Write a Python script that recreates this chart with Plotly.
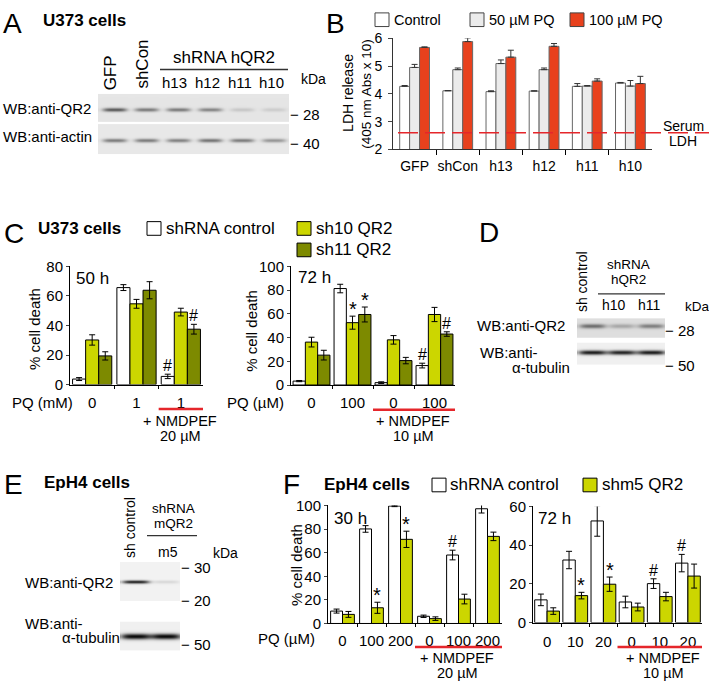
import numpy as np
import plotly.graph_objects as go

W, H = 709, 690
FONT = "Liberation Sans, Arial, sans-serif"

# ---------------- data ----------------
# Panel B
B_groups = ["GFP", "shCon", "h13", "h12", "h11", "h10"]
B_series = ["Control", "50 µM PQ", "100 µM PQ"]
B_control = [4.27, 4.11, 4.08, 4.10, 4.27, 4.39]
B_control_err = [0.03, 0.01, 0.03, 0.01, 0.10, 0.02]
B_pq50 = [4.95, 4.87, 5.09, 4.87, 4.28, 4.28]
B_pq50_err = [0.11, 0.06, 0.13, 0.06, 0.02, 0.20]
B_pq100 = [5.67, 5.88, 5.32, 5.71, 4.46, 4.37]
B_pq100_err = [0.02, 0.13, 0.25, 0.10, 0.08, 0.26]
B_yticks = [2, 3, 4, 5, 6]
serum_ldh = 2.6

# Panel C
C_series = ["shRNA control", "sh10 QR2", "sh11 QR2"]
C50_labels = ["0", "1", "1"]
C50_shcon = [3.7, 65.7, 5.5]
C50_shcon_err = [1.0, 2.0, 1.5]
C50_sh10 = [30.2, 54.7, 49.1]
C50_sh10_err = [3.5, 3.0, 2.6]
C50_sh11 = [19.4, 63.9, 37.5]
C50_sh11_err = [2.8, 5.8, 3.3]
C50_marks = [("#", 0, 2), ("#", 2, 2)]
C50_yticks = [0, 20, 40, 60, 80]

C72_labels = ["0", "100", "0", "100"]
C72_shcon = [3.3, 81.4, 2.0, 16.4]
C72_shcon_err = [0.5, 3.6, 0.7, 2.0]
C72_sh10 = [36.2, 52.6, 38.1, 59.5]
C72_sh10_err = [4.1, 5.5, 3.6, 6.0]
C72_sh11 = [25.2, 59.5, 20.6, 43.0]
C72_sh11_err = [4.1, 6.3, 2.7, 1.9]
C72_marks = [("*", 1, 1), ("*", 2, 1), ("#", 0, 3), ("#", 2, 3)]
C72_yticks = [0, 20, 40, 60, 80, 100]

# Panel F
F_series = ["shRNA control", "shm5 QR2"]
F30_labels = ["0", "100", "200", "0", "100", "200"]
F30_shcon = [10.5, 80.1, 99.5, 6.1, 58.0, 97.2]
F30_shcon_err = [1.7, 2.8, 0.5, 1.0, 4.1, 3.6]
F30_shm5 = [7.7, 13.3, 71.3, 4.1, 20.7, 73.8]
F30_shm5_err = [2.5, 4.7, 6.9, 1.5, 4.1, 3.6]
F30_marks = [("*", 1, 1), ("*", 1, 2), ("#", 0, 4)]
F30_yticks = [0, 20, 40, 60, 80, 100]

F72_labels = ["0", "10", "20", "0", "10", "20"]
F72_shcon = [11.7, 32.3, 52.5, 10.6, 20.1, 30.7]
F72_shcon_err = [3.0, 4.5, 7.9, 3.0, 2.5, 4.5]
F72_shm5 = [5.9, 13.9, 19.8, 8.0, 13.4, 24.0]
F72_shm5_err = [1.7, 1.7, 3.7, 2.0, 2.2, 6.2]
F72_marks = [("*", 1, 1), ("*", 1, 2), ("#", 0, 4), ("#", 0, 5)]
F72_yticks = [0, 20, 40, 60]

# Western blot band intensities (0 = none, 1 = black)
A_lanes = ["GFP", "shCon", "h13", "h12", "h11", "h10"]
A_qr2 = [0.55, 0.42, 0.42, 0.38, 0.12, 0.10]
A_actin = [0.42, 0.42, 0.40, 0.45, 0.42, 0.32]
D_lanes = ["sh control", "h10", "h11"]
D_qr2 = [0.45, 0.22, 0.38]
D_tub = [0.85, 0.82, 0.85]
E_lanes = ["sh control", "m5"]
E_qr2 = [0.8, 0.1]
E_tub = [0.92, 0.92]

# ---------------- styling ----------------
YEL = "#ccd600"
OLIVE = "#7d8a00"
RED_B = "#e8411d"
GRAY_B = "#ebebeb"
LRED = "#e5262b"


def px(x):
    return x / W


def py(y):
    return 1 - y / H


fig = go.Figure()
anns = []
shapes = []


def T(x, y, text, size=15, xa="left", ya="middle", bold=False, angle=0):
    anns.append(dict(x=px(x), y=py(y), xref="paper", yref="paper",
                     text=("<b>%s</b>" % text) if bold else text,
                     showarrow=False, xanchor=xa, yanchor=ya, textangle=angle,
                     borderpad=0,
                     font=dict(size=size, color="black", family=FONT)))


def sq(x0, y0, s, color, lc="black"):
    shapes.append(dict(type="rect", xref="paper", yref="paper",
                       x0=px(x0), x1=px(x0 + s), y0=py(y0 + s), y1=py(y0),
                       fillcolor=color, line=dict(color=lc, width=1)))


def hline(x0, x1, y, color="black", width=1):
    shapes.append(dict(type="line", xref="paper", yref="paper",
                       x0=px(x0), x1=px(x1), y0=py(y), y1=py(y),
                       line=dict(color=color, width=width)))


def axis_dom(x0, x1, y0, y1):
    return [px(x0), px(x1)], [py(y1), py(y0)]


layout_axes = {}


def chart_axes(n, xdom, ydom, ngroups, labels, yrange, yticks, minor_len=3, standoff=6):
    xs = "xaxis" if n == 1 else "xaxis%d" % n
    ys = "yaxis" if n == 1 else "yaxis%d" % n
    layout_axes[xs] = dict(domain=xdom, anchor="y" if n == 1 else "y%d" % n,
                           range=[-0.5, ngroups - 0.5], tickvals=list(range(ngroups)),
                           ticktext=labels, ticks="", showline=True, linecolor="black",
                           linewidth=1, showgrid=False, zeroline=False,
                           ticklabelstandoff=standoff,
                           tickfont=dict(size=15, family=FONT, color="black"),
                           minor=dict(tickmode="array",
                                      tickvals=[i + 0.5 for i in range(ngroups - 1)],
                                      ticks="outside", ticklen=minor_len, tickcolor="black"))
    layout_axes[ys] = dict(domain=ydom, anchor="x" if n == 1 else "x%d" % n,
                           range=yrange, tickvals=yticks, ticks="outside", ticklen=3,
                           showline=True, linecolor="black", linewidth=1,
                           showgrid=False, zeroline=False,
                           tickfont=dict(size=15, family=FONT, color="black"))


def add_bars(n, series, colors, width, edge="black", upper_only=False):
    k = len(series)
    xa = "x" if n == 1 else "x%d" % n
    ya = "y" if n == 1 else "y%d" % n
    for s, ((vals, errs), col) in enumerate(zip(series, colors)):
        eb = dict(type="data", array=errs, color="black", thickness=1, width=3)
        if upper_only:
            eb.update(symmetric=False, arrayminus=[0] * len(errs), color="#333")
        fig.add_trace(go.Bar(x=list(range(len(vals))), y=vals, width=width,
                             offset=-k * width / 2 + s * width,
                             marker=dict(color=col, line=dict(color=edge, width=1)),
                             error_y=eb, xaxis=xa, yaxis=ya, showlegend=False,
                             hoverinfo="skip"))


def add_marks(n, series, marks, width):
    k = len(series)
    xa = "x" if n == 1 else "x%d" % n
    ya = "y" if n == 1 else "y%d" % n
    for sym, s, g in marks:
        vals, errs = series[s]
        xc = g - k * width / 2 + (s + 0.5) * width
        anns.append(dict(x=xc, y=vals[g] + errs[g], xref=xa, yref=ya, text=sym,
                         showarrow=False, yanchor="bottom", yshift=-1 if sym == "#" else -5,
                         borderpad=0,
                         font=dict(size=16 if sym == "#" else 20, family=FONT, color="black")))


# ---------------- Panel B ----------------
xd, yd = axis_dom(393, 652, 30, 144)
chart_axes(1, xd, yd, len(B_groups), B_groups, [2, 6], B_yticks, minor_len=5, standoff=4)
layout_axes["yaxis"]["ticklen"] = 4
layout_axes["yaxis"]["ticklabelstandoff"] = 3
layout_axes["yaxis"]["tickfont"]["size"] = 14
layout_axes["xaxis"]["tickfont"]["size"] = 14
layout_axes["xaxis"]["linecolor"] = "#333"
layout_axes["yaxis"]["linecolor"] = "#333"
B_data = [(B_control, B_control_err), (B_pq50, B_pq50_err), (B_pq100, B_pq100_err)]
add_bars(1, B_data, ["white", GRAY_B, RED_B], 0.23, edge="#666", upper_only=True)
shapes.append(dict(type="line", xref="paper", yref="y", x0=px(398), x1=1.0,
                   y0=serum_ldh, y1=serum_ldh, line=dict(color=LRED, width=1.5, dash="20px,7px")))
T(325, 15, "B", size=28)
for (x0, col, name) in [(375, "white", B_series[0]), (470, GRAY_B, B_series[1]), (570, RED_B, B_series[2])]:
    sq(x0, 4, 14, col, lc="#444")
    T(x0 + 18, 11, name, size=14.5)
T(683, 120, "Serum", size=14, xa="center")
T(683, 135, "LDH", size=14, xa="center")
T(348, 86, "LDH release", size=14, xa="center", angle=-90)
T(367, 87, "(405 nm Abs x 10)", size=13.5, xa="center", angle=-90)

# ---------------- Panel C ----------------
C50_data = [(C50_shcon, C50_shcon_err), (C50_sh10, C50_sh10_err), (C50_sh11, C50_sh11_err)]
C72_data = [(C72_shcon, C72_shcon_err), (C72_sh10, C72_sh10_err), (C72_sh11, C72_sh11_err)]
xd, yd = axis_dom(70, 203, 264, 385)
chart_axes(2, xd, yd, len(C50_labels), C50_labels, [0, 80], C50_yticks, standoff=4)
add_bars(2, C50_data, ["white", YEL, OLIVE], 0.295)
add_marks(2, C50_data, C50_marks, 0.295)
xd, yd = axis_dom(291, 455, 264, 385.5)
chart_axes(3, xd, yd, len(C72_labels), C72_labels, [0, 100], C72_yticks, standoff=4)
add_bars(3, C72_data, ["white", YEL, OLIVE], 0.30)
add_marks(3, C72_data, C72_marks, 0.30)

T(3, 230, "C", size=28)
T(37, 225, "U373 cells", size=17, bold=True)
sq(147, 218, 14, "white")
T(165, 225, C_series[0], size=17)
sq(297, 218, 14, YEL)
T(315, 225, C_series[1], size=17)
sq(297, 240, 14, OLIVE)
T(315, 247, C_series[2], size=17)
T(75, 276, "50 h", size=17)
T(297, 275, "72 h", size=17)
T(35, 328, "% cell death", size=15, xa="center", angle=-90)
T(252, 330, "% cell death", size=15, xa="center", angle=-90)
T(11, 403, "PQ (mM)", size=15)
T(226, 403, "PQ (µM)", size=15)
shapes.append(dict(type="line", xref="x2", yref="paper", x0=1.5, x1=2.5,
                   y0=py(410), y1=py(410), line=dict(color=LRED, width=2.5)))
shapes.append(dict(type="line", xref="x3", yref="paper", x0=1.5, x1=3.5,
                   y0=py(411), y1=py(411), line=dict(color=LRED, width=2.5)))
T(180, 422, "+ NMDPEF", size=14.5, xa="center")
T(180, 438, "20 µM", size=14.5, xa="center")
T(413, 422, "+ NMDPEF", size=14.5, xa="center")
T(413, 438, "10 µM", size=14.5, xa="center")

# ---------------- Panel F ----------------
F30_data = [(F30_shcon, F30_shcon_err), (F30_shm5, F30_shm5_err)]
F72_data = [(F72_shcon, F72_shcon_err), (F72_shm5, F72_shm5_err)]
xd, yd = axis_dom(328, 502, 509, 630)
chart_axes(4, xd, yd, len(F30_labels), F30_labels, [0, 100], F30_yticks, standoff=4)
add_bars(4, F30_data, ["white", YEL], 0.41)
add_marks(4, F30_data, F30_marks, 0.41)
xd, yd = axis_dom(533, 702, 510, 629)
chart_axes(5, xd, yd, len(F72_labels), F72_labels, [0, 60], F72_yticks, standoff=5)
add_bars(5, F72_data, ["white", YEL], 0.44)
add_marks(5, F72_data, F72_marks, 0.44)

T(282, 487, "F", size=28)
T(323, 487, "EpH4 cells", size=17, bold=True)
sq(432, 481, 14, "white")
T(449, 488, F_series[0], size=17)
sq(583, 481, 14, YEL)
T(601, 488, F_series[1], size=17)
T(333, 522, "30 h", size=17)
T(537, 522, "72 h", size=17)
T(297, 570, "% cell death", size=15, xa="center", angle=-90)
T(257, 645, "PQ (µM)", size=15)
shapes.append(dict(type="line", xref="x4", yref="paper", x0=2.5, x1=5.5,
                   y0=py(654), y1=py(654), line=dict(color=LRED, width=2.5)))
shapes.append(dict(type="line", xref="x5", yref="paper", x0=2.5, x1=5.5,
                   y0=py(654), y1=py(654), line=dict(color=LRED, width=2.5)))
T(457, 665, "+ NMDPEF", size=14.5, xa="center")
T(457, 681, "20 µM", size=14.5, xa="center")
T(663, 665, "+ NMDPEF", size=14.5, xa="center")
T(663, 681, "10 µM", size=14.5, xa="center")


# ---------------- Western blots ----------------
def blot(n, x0, x1, y0, y1, intens, band_row, sigma, bg=0.08, half=0.38):
    nx = int(round(x1 - x0))
    ny = int(round(y1 - y0))
    cols = np.arange(nx) + 0.5
    rows = np.arange(ny) + 0.5
    z = np.full((ny, nx), bg)
    lw = nx / len(intens)
    rprof = np.exp(-((rows - band_row) / sigma) ** 2)
    for i, v in enumerate(intens):
        c = (i + 0.5) * lw
        cprof = np.exp(-((cols - c) / (half * lw)) ** 4)
        z += v * np.outer(rprof, cprof)
    z = np.clip(z, 0, 1)
    xa = "x%d" % n
    ya = "y%d" % n
    fig.add_trace(go.Heatmap(z=z, x=cols, y=rows, xaxis=xa, yaxis=ya, zmin=0, zmax=1,
                             colorscale=[[0, "white"], [1, "black"]], showscale=False,
                             zsmooth="best", hoverinfo="skip"))
    xd, yd = axis_dom(x0, x1, y0, y1)
    layout_axes["xaxis%d" % n] = dict(domain=xd, range=[0, nx], visible=False, anchor=ya)
    layout_axes["yaxis%d" % n] = dict(domain=yd, range=[ny, 0], visible=False, anchor=xa)


blot(6, 98, 289, 87, 116, A_qr2, 16, 1.9, bg=0.10)
blot(7, 98, 289, 118, 149, A_actin, 16.5, 1.9, bg=0.09)
blot(8, 577, 665, 317, 337, D_qr2, 8, 2.2, bg=0.13, half=0.45)
blot(9, 577, 665, 342, 365, D_tub, 10, 2.2, bg=0.06, half=0.48)
blot(10, 120, 180, 567, 607, E_qr2, 20, 1.7, bg=0.05, half=0.45)
blot(11, 120, 180, 628, 658, E_tub, 15, 2.8, bg=0.06, half=0.5)

# Panel A texts
T(2, 15, "A", size=28)
T(42, 12, "U373 cells", size=17, bold=True)
T(110, 66, A_lanes[0], size=17, xa="center", angle=-90)
T(143, 57, A_lanes[1], size=17, xa="center", angle=-90)
T(224, 50, "shRNA hQR2", size=17, xa="center")
hline(160, 288, 62, "#333", 1.5)
for i, lab in enumerate(A_lanes[2:]):
    T([174, 207, 240, 271][i], 75, lab, size=15, xa="center")
T(300, 72, "kDa", size=14)
T(2, 102, "WB:anti-QR2", size=15)
T(2, 131, "WB:anti-actin", size=15)
T(289, 108, "\u2212 28", size=15)
T(289, 138, "\u2212 40", size=15)

# Panel D texts
T(478, 229, "D", size=28)
T(582, 280, D_lanes[0], size=14, xa="center", angle=-90)
T(628, 262, "shRNA", size=13.5, xa="center")
T(628, 277, "hQR2", size=13.5, xa="center")
hline(598, 665, 292, "#333", 1.2)
T(614, 303, D_lanes[1], size=14, xa="center")
T(649, 303, D_lanes[2], size=14, xa="center")
T(684, 305, "kDa", size=13.5)
T(664, 330, "\u2212 28", size=15)
T(664, 365, "\u2212 50", size=15)
T(566, 325, "WB:anti-QR2", size=15, xa="right")
T(479, 352, "WB:anti-", size=15)
T(571, 368, "\u03b1-tubulin", size=15, xa="right")

# Panel E texts
T(3, 487, "E", size=28)
T(43, 485, "EpH4 cells", size=17, bold=True)
T(130, 532, E_lanes[0], size=14, xa="center", angle=-90)
T(173, 512, "shRNA", size=13.5, xa="center")
T(173, 527, "mQR2", size=13.5, xa="center")
hline(147, 197, 540, "#333", 1.2)
T(168, 557, E_lanes[1], size=14, xa="center")
T(212, 558, "kDa", size=14)
T(180, 573, "\u2212 30", size=15)
T(180, 606, "\u2212 20", size=15)
T(180, 652, "\u2212 50", size=15)
T(24, 588, "WB:anti-QR2", size=15)
T(24, 630, "WB:anti-", size=15)
T(121, 644, "\u03b1-tubulin", size=15, xa="right")

fig.update_layout(width=W, height=H, margin=dict(l=0, r=0, t=0, b=0),
                  paper_bgcolor="white", plot_bgcolor="rgba(0,0,0,0)",
                  barmode="overlay", annotations=anns, shapes=shapes,
                  font=dict(family=FONT, color="black"), **layout_axes)

fig.write_html("out.html", config={"displayModeBar": False},
               post_script="document.body.style.margin='0';document.body.style.overflow='hidden';")
